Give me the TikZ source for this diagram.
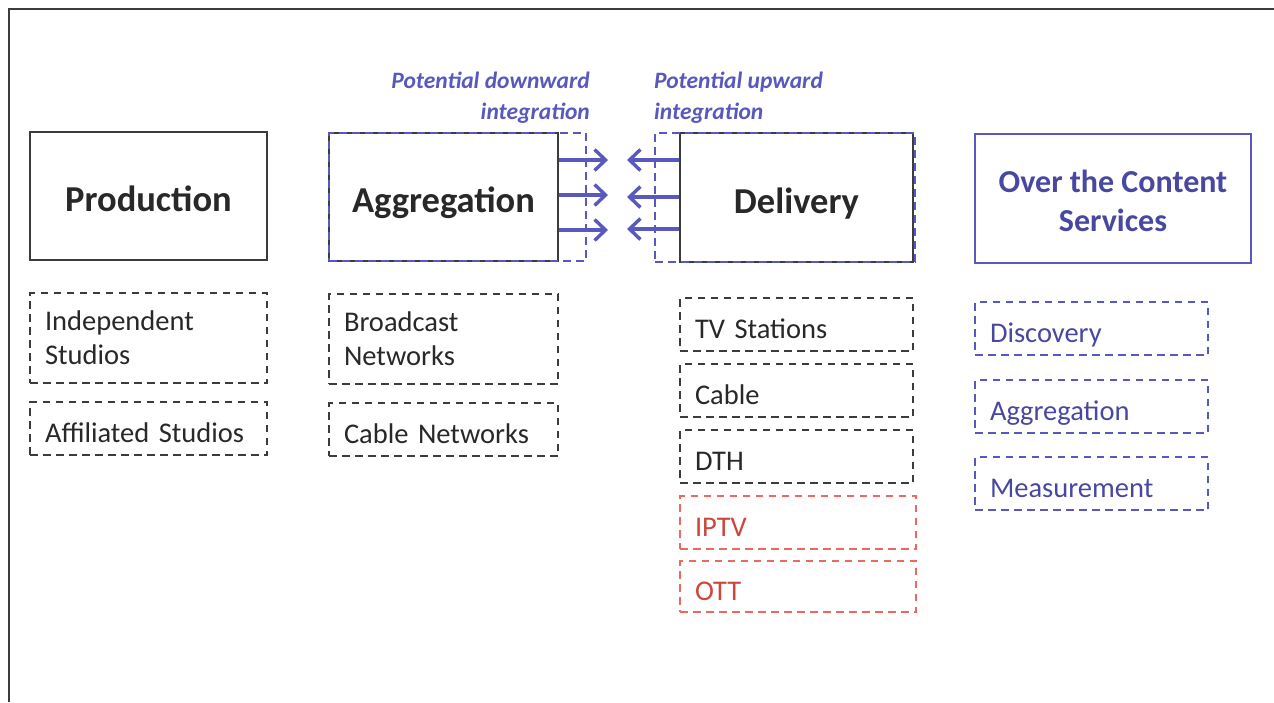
\documentclass[tikz,border=0pt]{standalone}
\usepackage{fontspec}
\setmainfont{Carlito}
\usetikzlibrary{arrows.meta}
\definecolor{dk}{RGB}{60,60,60}
\definecolor{txt}{RGB}{40,40,40}
\definecolor{bl}{RGB}{88,88,190}
\definecolor{bltxt}{RGB}{72,72,160}
\definecolor{rd}{RGB}{235,105,95}
\definecolor{rdtxt}{RGB}{205,70,60}
\tikzset{
  head/.style={draw=dk, line width=2pt, minimum width=#1, inner sep=0pt, minimum height=128pt, align=center, font=\fontsize{36.5}{40}\selectfont\bfseries, text=txt, text height=33pt, text depth=2pt},
  sub/.style={draw=dk, line width=1.9pt, dash pattern=on 7.5pt off 5.5pt, inner xsep=15pt, inner ysep=0pt, text width=#1-30pt, align=left, font=\fontsize{28.5}{34}\selectfont, text=txt},
  one/.style={text height=29pt, text depth=2pt},
  subr/.style={sub=#1, draw=rd, text=rdtxt},
  subb/.style={sub=#1, draw=bl, text=bltxt},
  zone/.style={draw=bl, line width=2pt, dash pattern=on 8pt off 5pt, inner sep=0pt},
  arr/.style={draw=bl, line width=3.4pt, -{Straight Barb[length=11pt,width=21pt,line width=3.4pt]}},
  lab/.style={font=\fontsize{23.5}{31}\selectfont\bfseries\itshape, text=bl, inner sep=0pt}
}
\begin{document}
\begin{tikzpicture}[x=1pt,y=-1pt]
\useasboundingbox (0,0) rectangle (1274,702);
% frame
\coordinate (fbl) at (9,702);
\coordinate (ftl) at (9,9);
\coordinate (ftr) at (1274,9);
\draw[dk, line width=2.2pt] (fbl) -- (ftl) -- (ftr);

% header boxes
\node[head=237pt] (prod) at (148.5,196) {Production};
\node[head=229pt] (agg) at (443.5,197) {Aggregation};
\node[head=233pt, minimum height=129pt] (del) at (796.5,197.5) {Delivery};
\node[draw=bl, line width=2pt, minimum width=276pt, minimum height=129pt, inner sep=0pt] (otc) at (1113,198.5) {};
\node[inner sep=0pt, align=center, text=bltxt, font=\fontsize{32}{39}\selectfont\bfseries] (otctext) at (otc.center) [yshift=-2.5pt] {Over the Content\\Services};

% integration zones
\node[zone, minimum width=257pt, minimum height=128pt] (aggz) at (457.5,197) {};
\node[zone, minimum width=260pt, minimum height=129pt] (delz) at (785,197.5) {};

% arrows
\coordinate (r1) at (608,160);
\coordinate (r2) at (608,195);
\coordinate (r3) at (608,230);
\coordinate (l1) at (627,160);
\coordinate (l2) at (627,197);
\coordinate (l3) at (627,229);
\draw[arr] (agg.east |- r1) -- (r1);
\draw[arr] (agg.east |- r2) -- (r2);
\draw[arr] (agg.east |- r3) -- (r3);
\draw[arr] (del.west |- l1) -- (l1);
\draw[arr] (del.west |- l2) -- (l2);
\draw[arr] (del.west |- l3) -- (l3);

% labels
\node[lab, anchor=east, align=right] (down) at (590,97.5) {Potential downward\\integration};
\node[lab, anchor=west, align=left] (up) at (654,97.5) {Potential upward\\integration};

% sub boxes
\node[sub=237pt, minimum height=90pt] (indep) at (148.5,338) {Independent\\Studios};
\node[sub=237pt, one, minimum height=53pt] (affil) at (148.5,428.5) {Affiliated Studios};
\node[sub=229pt, minimum height=90pt] (broad) at (443.5,339) {Broadcast\\Networks};
\node[sub=229pt, one, minimum height=53pt] (cablenet) at (443.5,429.5) {Cable Networks};

\node[sub=233pt, one, minimum height=53pt] (tv) at (796.5,324.5) {TV Stations};
\node[sub=233pt, one, minimum height=53pt] (cable) at (796.5,390.5) {Cable};
\node[sub=233pt, one, minimum height=53pt] (dth) at (796.5,456.5) {DTH};
\node[subr=236pt, one, minimum height=53pt] (iptv) at (798,522.5) {IPTV};
\node[subr=236pt, one, minimum height=51pt] (ott) at (798,586.5) {OTT};

\node[subb=233pt, one, minimum height=53pt] (disc) at (1091.5,328.5) {Discovery};
\node[subb=233pt, one, minimum height=53pt] (agg2) at (1091.5,406.5) {Aggregation};
\node[subb=233pt, one, minimum height=53pt] (meas) at (1091.5,483.5) {Measurement};
\end{tikzpicture}
\end{document}
